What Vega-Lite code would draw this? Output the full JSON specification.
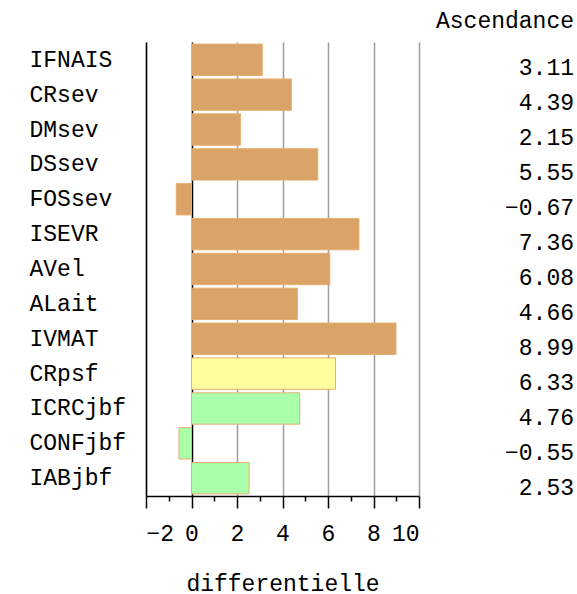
{
  "$schema": "https://vega.github.io/schema/vega-lite/v6.json",
  "padding": {"left": 29, "top": 10, "right": 4, "bottom": 0},
  "config": {
    "font": "Liberation Mono",
    "view": {"stroke": null},
    "concat": {"spacing": 4},
    "axis": {"labelFontSize": 23, "labelColor": "black", "titleFontSize": 23, "titleFontWeight": "normal", "titleColor": "black"}
  },
  "data": {
    "values": [
      {"var": "IFNAIS", "val": 3.11, "group": "a"},
      {"var": "CRsev", "val": 4.39, "group": "a"},
      {"var": "DMsev", "val": 2.15, "group": "a"},
      {"var": "DSsev", "val": 5.55, "group": "a"},
      {"var": "FOSsev", "val": -0.67, "group": "a"},
      {"var": "ISEVR", "val": 7.36, "group": "a"},
      {"var": "AVel", "val": 6.08, "group": "a"},
      {"var": "ALait", "val": 4.66, "group": "a"},
      {"var": "IVMAT", "val": 8.99, "group": "a"},
      {"var": "CRpsf", "val": 6.33, "group": "b"},
      {"var": "ICRCjbf", "val": 4.76, "group": "c"},
      {"var": "CONFjbf", "val": -0.55, "group": "c"},
      {"var": "IABjbf", "val": 2.53, "group": "c"}
    ]
  },
  "hconcat": [
    {
      "width": 273,
      "height": 454,
      "layer": [
        {
          "mark": {"type": "bar", "stroke": "#E8AE70", "strokeWidth": 1},
          "encoding": {
            "y": {
              "field": "var", "type": "nominal", "sort": null,
              "scale": {"paddingInner": 0.1, "paddingOuter": 0.06},
              "axis": {"title": null, "labelAlign": "left", "labelPadding": 117, "ticks": false, "tickSize": 0, "domainColor": "black", "domainWidth": 1.5}
            },
            "x": {
              "field": "val", "type": "quantitative",
              "scale": {"domain": [-2, 10], "nice": false, "zero": false},
              "axis": {
                "orient": "bottom",
                "values": [-2, 0, 2, 4, 6, 8, 10],
                "tickSize": 12, "tickColor": "black", "tickWidth": 1.5,
                "domainColor": "black", "domainWidth": 1.5,
                "grid": true, "gridWidth": 1.5,
                "gridColor": {"condition": {"test": "datum.value === 0", "value": "black"}, "value": "#9e9e9e"},
                "gridOpacity": 1,
                "labelPadding": 14,
                "title": "differentielle", "titlePadding": 27
              }
            },
            "color": {
              "field": "group", "type": "nominal",
              "scale": {"domain": ["a", "b", "c"], "range": ["#DAA468", "#FFFFA0", "#AAFFAA"]},
              "legend": null
            }
          }
        },
        {
          "mark": {"type": "bar", "opacity": 0},
          "encoding": {
            "y": {"field": "var", "type": "nominal", "sort": null},
            "x": {
              "field": "val", "type": "quantitative",
              "axis": {"orient": "bottom", "values": [-1, 1, 3, 5, 7, 9], "tickSize": 5, "tickColor": "black", "tickWidth": 1.5, "labels": false, "domain": false, "grid": false, "title": null}
            }
          }
        }
      ],
      "resolve": {"axis": {"x": "independent"}}
    },
    {
      "width": 150,
      "height": 454,
      "title": {"text": "Ascendance", "anchor": "end", "fontSize": 23, "fontWeight": "normal", "color": "black", "offset": 9},
      "mark": {"type": "text", "align": "right", "fontSize": 23, "dy": 9, "color": "black"},
      "encoding": {
        "y": {"field": "var", "type": "nominal", "sort": null, "scale": {"paddingInner": 0.1, "paddingOuter": 0.06}, "axis": null},
        "x": {"datum": 1, "type": "quantitative", "scale": {"domain": [0, 1]}, "axis": null},
        "text": {"field": "val", "type": "quantitative", "format": ".2f"}
      }
    }
  ]
}
